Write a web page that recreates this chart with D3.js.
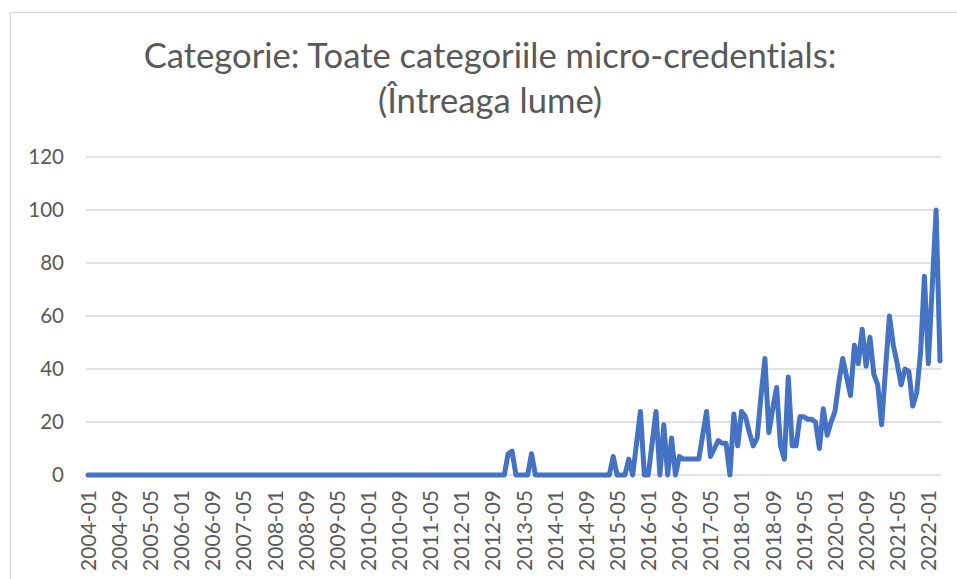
<!DOCTYPE html>
<html>
<head>
<meta charset="utf-8">
<script src="https://cdn.jsdelivr.net/npm/d3@7"></script>
<style>
  body { margin: 0; background: #fff; }
  svg { display: block; font-variant-ligatures: none; }
</style>
</head>
<body>
<div id="chart"></div>
<script>
// google trends style monthly interest, 2004-01 .. 2022-04
const years = d3.range(2004, 2023);
const monthNames = ['01','02','03','04','05','06','07','08','09','10','11','12'];
const lastMonth = '2022-04';

// values per year (12 months each)
const zeroYear = [0,0,0,0,0,0,0,0,0,0,0,0];
const v2004 = zeroYear, v2005 = zeroYear, v2006 = zeroYear, v2007 = zeroYear;
const v2008 = zeroYear, v2009 = zeroYear, v2010 = zeroYear, v2011 = zeroYear;
const v2012 = [0,0,0,0,0,0,0,0,0,0,0,0];
const v2013 = [8,9,0,0,0,0,8,0,0,0,0,0];
const v2014 = [0,0,0,0,0,0,0,0,0,0,0,0];
const v2015 = [0,0,0,7,0,0,0,6,0,12,24,0];
const v2016 = [0,12,24,0,19,0,14,0,7,6,6,6];
const v2017 = [6,6,15,24,7,10,13,12,12,0,23,11];
const v2018 = [24,22,16,11,14,30,44,16,25,33,11,6];
const v2019 = [37,11,11,22,22,21,21,20,10,25,15,20];
const v2020 = [24,35,44,37,30,49,42,55,41,52,38,34];
const v2021 = [19,40,60,49,42,34,40,39,26,31,46,75];
const v2022 = [42,71,100,43];

const values = [].concat(v2004, v2005, v2006, v2007, v2008, v2009, v2010, v2011,
  v2012, v2013, v2014, v2015, v2016, v2017, v2018, v2019, v2020, v2021, v2022);

const tickLabels = ['2004-01','2004-09','2005-05','2006-01','2006-09','2007-05','2008-01',
  '2008-09','2009-05','2010-01','2010-09','2011-05','2012-01','2012-09','2013-05','2014-01',
  '2014-09','2015-05','2016-01','2016-09','2017-05','2018-01','2018-09','2019-05','2020-01',
  '2020-09','2021-05','2022-01'];
const yTicks = [0, 20, 40, 60, 80, 100, 120];
const titleLines = ['Categorie: Toate categoriile micro-credentials:', '(Întreaga lume)'];

// categories
const categories = [];
years.forEach(y => monthNames.forEach(m => {
  const c = y + '-' + m;
  if (c <= lastMonth) categories.push(c);
}));
const data = categories.map((c, i) => ({month: c, value: values[i]}));

const W = 957, H = 579;
const margin = {top: 157, right: 17, bottom: 104, left: 88};
const fontFam = 'Lato, "Liberation Sans", sans-serif';

const svg = d3.select('#chart').append('svg')
  .attr('width', W)
  .attr('height', H)
  .attr('font-family', fontFam);

// chart frame
svg.append('rect')
  .attr('x', 10.5).attr('y', 12.5)
  .attr('width', W + 20).attr('height', H + 20)
  .attr('fill', '#fff')
  .attr('stroke', '#d9d9d9')
  .attr('stroke-width', 1.3);

const x = d3.scalePoint()
  .domain(categories)
  .range([margin.left, W - margin.right]);

const y = d3.scaleLinear()
  .domain([0, 120])
  .range([H - margin.bottom, margin.top]);

// gridlines
svg.append('g')
  .selectAll('line')
  .data(yTicks)
  .join('line')
    .attr('x1', margin.left - 2)
    .attr('x2', W - margin.right + 1)
    .attr('y1', d => y(d))
    .attr('y2', d => y(d))
    .attr('stroke', '#d9d9d9')
    .attr('stroke-width', 1.5);

// y axis labels
const yAxis = svg.append('g')
  .attr('transform', `translate(${margin.left - 24},0)`)
  .call(d3.axisLeft(y).tickValues(yTicks).tickSize(0).tickPadding(0));
yAxis.select('.domain').remove();
yAxis.selectAll('text')
  .attr('fill', '#595959')
  .attr('font-size', 20.5)
  .attr('font-family', fontFam);

// x axis labels
const xAxis = svg.append('g')
  .attr('transform', `translate(0,${H - margin.bottom + 15})`)
  .call(d3.axisBottom(x).tickValues(tickLabels).tickSize(0).tickPadding(0));
xAxis.select('.domain').remove();
xAxis.selectAll('text')
  .attr('fill', '#595959')
  .attr('font-size', 21)
  .attr('font-family', fontFam)
  .attr('text-anchor', 'end')
  .attr('transform', 'rotate(-90)')
  .attr('x', 0)
  .attr('y', 0)
  .attr('dy', '0.35em');

// line
const line = d3.line()
  .x(d => x(d.month))
  .y(d => y(d.value));

svg.append('path')
  .datum(data)
  .attr('fill', 'none')
  .attr('stroke', '#4472c4')
  .attr('stroke-width', 5)
  .attr('stroke-linejoin', 'round')
  .attr('stroke-linecap', 'round')
  .attr('d', line);

// title
const title = svg.append('g')
  .attr('fill', '#595959')
  .attr('text-anchor', 'middle');
const t1 = title.append('text')
  .attr('x', 490).attr('y', 68)
  .attr('font-size', 32)
  .text(titleLines[0]);
// fit the first line to the width it has in the picture
const fs = 32 * 693 / t1.node().getComputedTextLength();
t1.attr('font-size', fs);
title.append('text')
  .attr('x', 490).attr('y', 113)
  .attr('font-size', fs)
  .text(titleLines[1]);
</script>
</body>
</html>
